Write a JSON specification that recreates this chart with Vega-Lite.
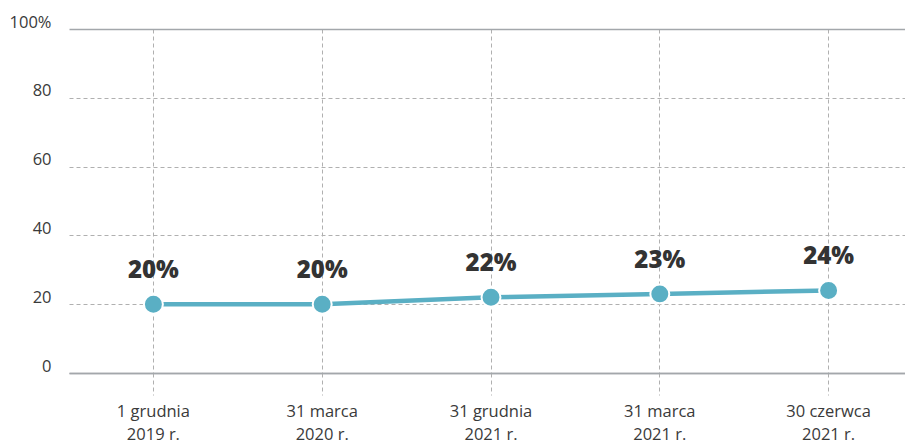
{
  "$schema": "https://vega.github.io/schema/vega-lite/v6.json",
  "autosize": "none",
  "padding": {"left": 69, "top": 29, "right": 0, "bottom": 71},
  "width": 844,
  "height": 344,
  "background": "white",
  "config": {
    "view": {"stroke": null},
    "font": "Open Sans",
    "axis": {
      "labelFont": "Open Sans",
      "labelColor": "#3a3a3a",
      "labelFontSize": 16.5
    }
  },
  "data": {
    "values": [
      {"date": "1 grudnia|2019 r.", "order": 1, "value": 20, "label": "20%"},
      {"date": "31 marca|2020 r.", "order": 2, "value": 20, "label": "20%"},
      {"date": "31 grudnia|2021 r.", "order": 3, "value": 22, "label": "22%"},
      {"date": "31 marca|2021 r.", "order": 4, "value": 23, "label": "23%"},
      {"date": "30 czerwca|2021 r.", "order": 5, "value": 24, "label": "24%"}
    ]
  },
  "encoding": {
    "x": {
      "field": "date",
      "type": "nominal",
      "sort": {"field": "order"},
      "scale": {"type": "band", "paddingInner": 0, "paddingOuter": 0},
      "axis": {
        "title": null,
        "labelAngle": 0,
        "labelExpr": "split(datum.label, '|')",
        "labelLineHeight": 23,
        "labelPadding": 8,
        "labelBaseline": "top",
        "domain": true,
        "domainColor": "#a3a7ab",
        "domainWidth": 1.5,
        "ticks": true,
        "tickSize": 22,
        "tickColor": "#b0b0b0",
        "tickDash": [4, 3],
        "grid": true,
        "gridColor": "#b0b0b0",
        "gridDash": [4, 3],
        "gridWidth": 1,
        "bandPosition": 0.5
      }
    },
    "y": {
      "field": "value",
      "type": "quantitative",
      "scale": {"domain": [0, 100], "nice": false},
      "axis": {
        "title": null,
        "values": [0, 20, 40, 60, 80, 100],
        "labelExpr": "datum.value == 100 ? '100%' : datum.label",
        "ticks": false,
        "domain": false,
        "labelPadding": 18,
        "labelBaseline": "alphabetic",
        "labelOffset": -2,
        "grid": true,
        "gridColor": {"condition": {"test": "datum.value == 100 || datum.value == 0", "value": "#a3a7ab"}, "value": "#b0b0b0"},
        "gridDash": {"condition": {"test": "datum.value == 100 || datum.value == 0", "value": []}, "value": [4, 3]},
        "gridWidth": {"condition": {"test": "datum.value == 100 || datum.value == 0", "value": 1.5}, "value": 1}
      }
    }
  },
  "layer": [
    {
      "mark": {"type": "line", "color": "#5aafc4", "strokeWidth": 4.5}
    },
    {
      "mark": {"type": "point", "filled": true, "color": "#5aafc4", "size": 360, "stroke": "white", "strokeWidth": 2, "opacity": 1}
    },
    {
      "mark": {"type": "text", "dy": -33, "fontSize": 24, "fontWeight": 800, "color": "#333333", "font": "Open Sans"},
      "encoding": {"text": {"field": "label", "type": "nominal"}}
    }
  ]
}
